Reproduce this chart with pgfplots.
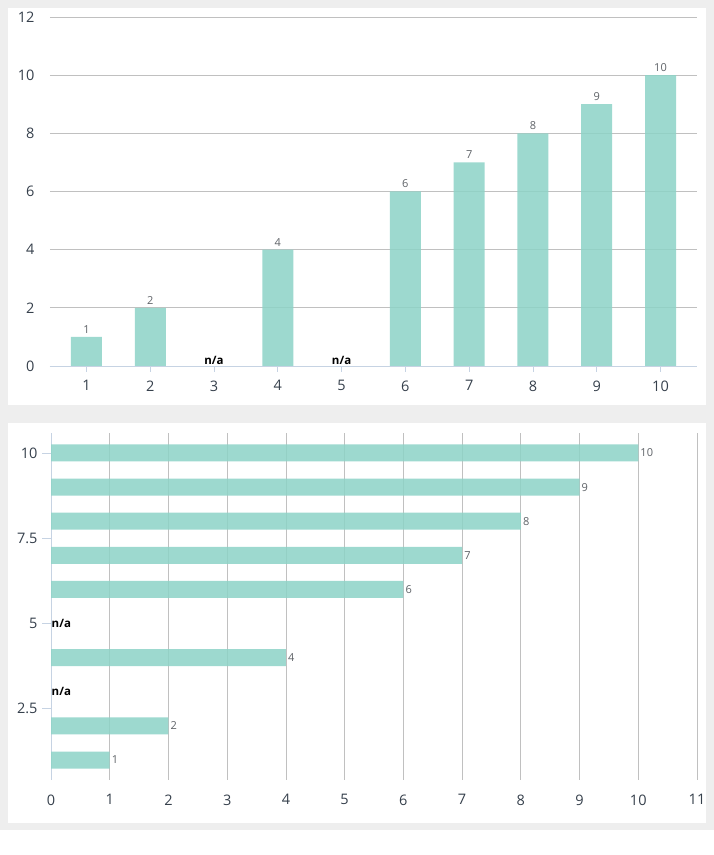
\documentclass[border=0pt]{standalone}
\usepackage{fontspec}
\setmainfont{Open Sans}
\usepackage{pgfplots}
\usepackage{pgfplotstable}
\pgfplotsset{compat=1.18}
\definecolor{barfill}{HTML}{8DD3C7}
\definecolor{gridc}{HTML}{C0C0C0}
\definecolor{axc}{HTML}{C6D3E3}
\definecolor{tickc}{HTML}{36404C}
\definecolor{valc}{HTML}{5F6368}
\definecolor{bgc}{HTML}{EEEEEE}
\pgfplotstableread{
x y
1 1
2 2
4 4
6 6
7 7
8 8
9 9
10 10
}\topdata
\pgfplotstableread{
x y
1 1
2 2
4 4
6 6
7 7
8 8
9 9
10 10
}\botdata
\begin{document}
\begin{tikzpicture}
\useasboundingbox (0pt,0pt) rectangle (714pt,855pt);
\fill[white] (0pt,0pt) rectangle (714pt,855pt);
\fill[bgc] (0pt,25pt) rectangle (714pt,855pt);
\fill[white] (8pt,450pt) rectangle (706pt,847pt);
\fill[white] (8pt,32pt) rectangle (706pt,432pt);
% ---------- top chart ----------
\begin{axis}[
  at={(50pt,489pt)}, anchor=south west,
  scale only axis, width=647pt, height=349pt,
  xmin=0.428, xmax=10.572, ymin=0, ymax=12,
  xtick={1,...,10}, ytick={0,2,...,12},
  ymajorgrids, grid style={gridc, line width=0.8pt},
  axis x line*=bottom, axis y line*=left,
  x axis line style={axc, line width=0.8pt, -},
  y axis line style={draw=none},
  xtick style={axc, line width=0.8pt}, ytick style={draw=none},
  xtick align=outside, major tick length=6pt,
  tick label style={font=\fontsize{14.5}{16}\selectfont, text=tickc},
  /pgf/number format/assume math mode=true,
  yticklabel style={xshift=-12pt},
  xticklabel style={yshift=-5pt},
  clip=false,
]
\addplot[ybar, bar width=31pt, draw=none, fill=barfill, fill opacity=0.85,
  nodes near coords,
  every node near coord/.append style={font=\fontsize{11}{13}\selectfont, text=valc, anchor=south, text opacity=1, fill opacity=1}]
  table[x=x, y=y] {\topdata};
\addplot[only marks, mark=none, nodes near coords={\bfseries n/a},
  every node near coord/.append style={font=\fontsize{11.5}{13}\selectfont, text=black, anchor=base, inner sep=0pt, yshift=1pt}]
  coordinates {(3,0) (5,0)};
\end{axis}
% ---------- bottom chart ----------
\begin{axis}[
  at={(51pt,75pt)}, anchor=south west,
  scale only axis, width=646pt, height=347pt,
  xmin=0, xmax=11, ymin=0.414, ymax=10.586,
  xtick={0,...,11}, ytick={2.5,5,7.5,10},
  xmajorgrids, grid style={gridc, line width=0.8pt},
  axis x line*=bottom, axis y line*=left,
  x axis line style={draw=none},
  y axis line style={axc, line width=0.8pt, -},
  xtick style={draw=none}, ytick style={axc, line width=0.8pt},
  ytick align=outside, major tick length=9pt,
  tick label style={font=\fontsize{14.5}{16}\selectfont, text=tickc},
  /pgf/number format/assume math mode=true,
  yticklabel style={xshift=-1pt},
  xticklabel style={yshift=-11pt},
  clip=false,
]
\addplot[xbar, bar width=17pt, draw=none, fill=barfill, fill opacity=0.85,
  nodes near coords,
  every node near coord/.append style={font=\fontsize{11}{13}\selectfont, text=valc, anchor=west, inner sep=2pt, text opacity=1, fill opacity=1}]
  table[x=y, y=x] {\botdata};
\addplot[only marks, mark=none, nodes near coords={\bfseries n/a},
  every node near coord/.append style={font=\fontsize{11.5}{13}\selectfont, text=black, anchor=west, inner sep=0pt, xshift=0.5pt}]
  coordinates {(0,5) (0,3)};
\end{axis}
\end{tikzpicture}
\end{document}
